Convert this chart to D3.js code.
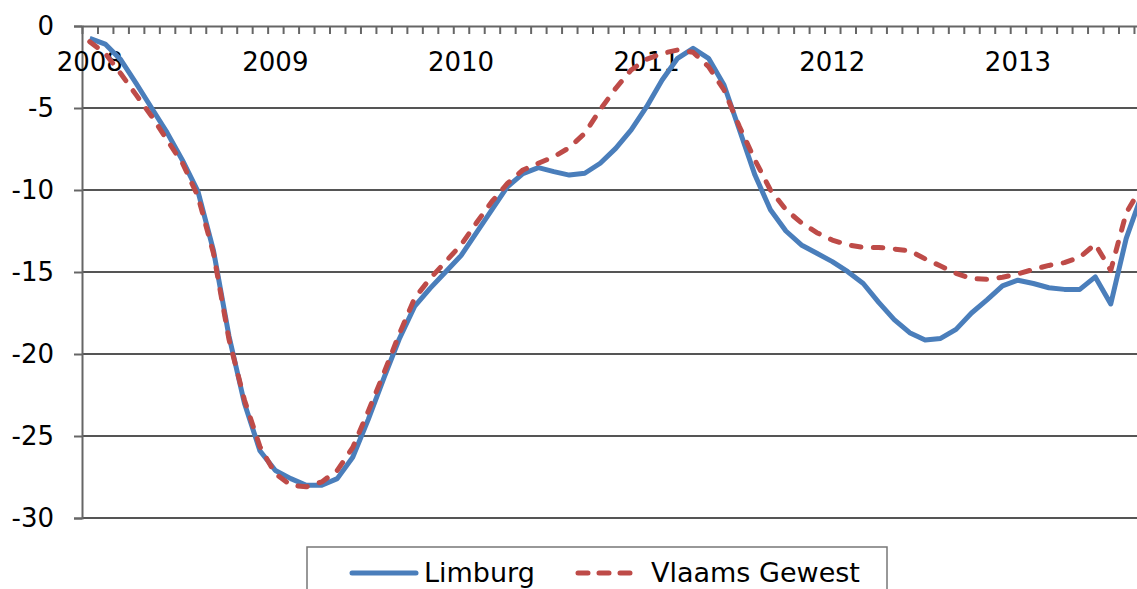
<!DOCTYPE html>
<meta charset="utf-8">
<script src="https://d3js.org/d3.v7.min.js"></script>
<style>
	body { margin: 0; background: #fff; }
	text { font-family: "DejaVu Sans", Verdana, sans-serif; }
</style>
<div id="chart"></div>
<script>
	// Data: monthly % change, Jan 2008 .. Sep 2013
	var years = ["2008", "2009", "2010", "2011", "2012", "2013"];
	var months = years.flatMap(y => d3.range(1, 13).map(m => y + "-" + String(m).padStart(2, "0"))).slice(0, 69);

	var limburg = [
		-0.75, -1.1, -2.05, -3.5, -5.0, -6.5, -8.2, -10.1, -13.7, -18.9, -23.0, -25.9,
		-27.1, -27.6, -28.0, -28.0, -27.6, -26.3, -24.0, -21.5, -19.1, -17.1, -16.0, -15.0,
		-14.0, -12.6, -11.2, -9.8, -9.0, -8.64, -8.88, -9.09, -8.98, -8.37, -7.46, -6.34,
		-4.92, -3.29, -1.97, -1.36, -1.97, -3.6, -6.34, -9.09, -11.2, -12.5, -13.35, -13.86,
		-14.37, -14.98, -15.7, -16.85, -17.9, -18.7, -19.15, -19.05, -18.5, -17.5, -16.7, -15.85,
		-15.5, -15.7, -15.96, -16.06, -16.06, -15.3, -16.95, -12.95, -10.3
	];
	var vlaams = [
		-0.96, -1.67, -2.9, -4.2, -5.5, -6.95, -8.37, -10.4, -13.86, -19.1, -22.8, -25.65,
		-27.3, -28.0, -28.1, -27.8, -27.1, -25.7, -23.5, -21.2, -18.8, -16.6, -15.4, -14.37,
		-13.35, -12.0, -10.7, -9.6, -8.78, -8.37, -7.97, -7.42, -6.54, -5.1, -3.8, -2.68,
		-2.03, -1.67, -1.46, -1.6, -2.48, -3.9, -6.14, -8.17, -10.0, -11.2, -12.0, -12.6,
		-13.05, -13.35, -13.5, -13.5, -13.6, -13.7, -14.2, -14.63, -15.08, -15.4, -15.45, -15.32,
		-15.12, -14.84, -14.6, -14.43, -14.1, -13.3, -14.9, -11.4, -9.8
	];
	var yTicks = [0, -5, -10, -15, -20, -25, -30];

	var width = 1137, height = 589;
	var plotLeft = 82, plotTop = 26, plotBottom = 518, step = 15.47;

	var svg = d3.select("#chart").append("svg")
		.attr("width", width)
		.attr("height", height);

	var x = d3.scaleBand()
		.domain(months)
		.range([plotLeft, plotLeft + months.length * step]);
	var xb = d3.scaleLinear()
		.domain([0, months.length])
		.range([plotLeft, plotLeft + months.length * step]);
	var y = d3.scaleLinear()
		.domain([0, -30])
		.range([plotTop, plotBottom]);

	// Gridlines
	svg.append("g")
		.selectAll("line")
		.data(yTicks.filter(d => d != 0))
		.enter().append("line")
		.attr("x1", plotLeft).attr("x2", width)
		.attr("y1", d => y(d)).attr("y2", d => y(d))
		.attr("stroke", "#555")
		.attr("stroke-width", 1.8);

	// Y axis
	var yAxis = svg.append("g")
		.attr("transform", "translate(" + plotLeft + ",0)")
		.call(d3.axisLeft(y).tickValues(yTicks).tickSize(8).tickPadding(20).tickFormat(d => String(d)));
	yAxis.select(".domain").attr("stroke", "#666").attr("stroke-width", 2);
	yAxis.selectAll(".tick line").attr("stroke", "#666").attr("stroke-width", 2);
	yAxis.selectAll("text").attr("font-size", 26).attr("fill", "#000")
		.style("font-family", "'DejaVu Sans', Verdana, sans-serif");

	// X axis at value 0, month ticks pointing down
	var xAxis = svg.append("g")
		.attr("transform", "translate(0," + y(0) + ")")
		.call(d3.axisBottom(xb).tickValues(d3.range(0, months.length + 1)).tickSize(8).tickFormat("").tickSizeOuter(0));
	xAxis.select(".domain").attr("stroke", "#666").attr("stroke-width", 2);
	xAxis.selectAll(".tick line").attr("stroke", "#666").attr("stroke-width", 2);

	// Year labels
	svg.append("g")
		.selectAll("text")
		.data(years)
		.enter().append("text")
		.attr("x", d => x(d + "-01") + x.bandwidth() / 2)
		.attr("y", 71)
		.attr("text-anchor", "middle")
		.attr("font-size", 26)
		.attr("fill", "#000")
		.text(d => d);

	// Lines
	var line = d3.line()
		.x((d, i) => x(months[i]) + x.bandwidth() / 2)
		.y(d => y(d));

	svg.append("path")
		.datum(limburg)
		.attr("fill", "none")
		.attr("stroke", "#4a7ebb")
		.attr("stroke-width", 5)
		.attr("stroke-linejoin", "round")
		.attr("d", line);

	svg.append("path")
		.datum(vlaams)
		.attr("fill", "none")
		.attr("stroke", "#be4b48")
		.attr("stroke-width", 5)
		.attr("stroke-linejoin", "round")
		.attr("stroke-linecap", "round")
		.attr("stroke-dasharray", "9.5,12.5")
		.attr("d", line);

	// Legend
	var legend = svg.append("g");
	legend.append("rect")
		.attr("x", 307).attr("y", 547)
		.attr("width", 580).attr("height", 60)
		.attr("fill", "#fff")
		.attr("stroke", "#777")
		.attr("stroke-width", 1.5);
	legend.append("line")
		.attr("x1", 352).attr("x2", 416)
		.attr("y1", 573).attr("y2", 573)
		.attr("stroke", "#4a7ebb")
		.attr("stroke-width", 5)
		.attr("stroke-linecap", "round");
	legend.append("text")
		.attr("x", 424).attr("y", 582)
		.attr("font-size", 27)
		.text("Limburg");
	legend.append("line")
		.attr("x1", 578).attr("x2", 637)
		.attr("y1", 573).attr("y2", 573)
		.attr("stroke", "#be4b48")
		.attr("stroke-width", 5)
		.attr("stroke-linecap", "round")
		.attr("stroke-dasharray", "10,11");
	legend.append("text")
		.attr("x", 651).attr("y", 582)
		.attr("font-size", 27)
		.text("Vlaams Gewest");
</script>
